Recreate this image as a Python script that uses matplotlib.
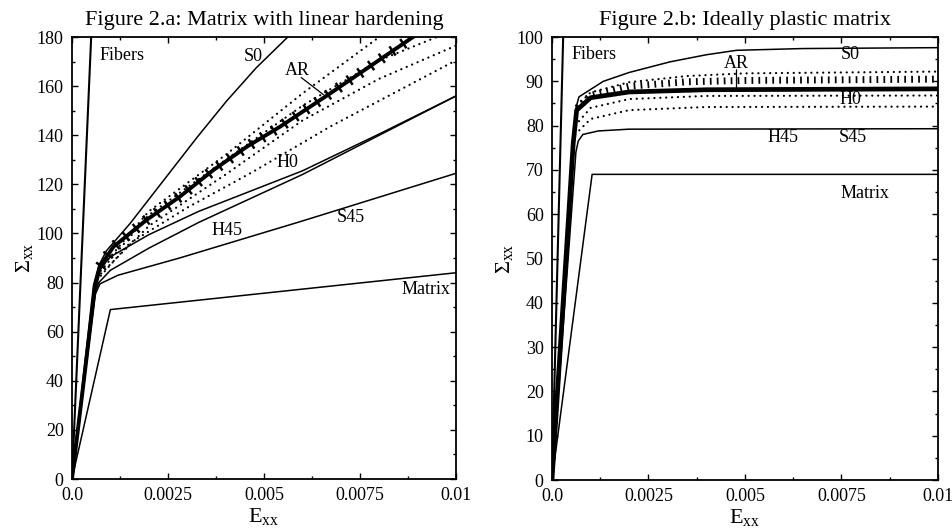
import matplotlib
matplotlib.use("Agg")
import matplotlib.pyplot as plt
from matplotlib.ticker import MultipleLocator, FixedLocator

plt.rcParams['font.family'] = ['Liberation Serif', 'DejaVu Serif']
plt.rcParams['mathtext.fontset'] = 'custom'
plt.rcParams['mathtext.rm'] = 'Liberation Serif'
plt.rcParams['mathtext.it'] = 'Liberation Serif'
plt.rcParams['mathtext.bf'] = 'Liberation Serif'

# ---------------- Figure 2.a : matrix with linear hardening ----------------
a_fib_E = [0.0, 0.0005]
a_fib_S = [0.0, 180.0]
a_mat_E = [0.0, 0.00100, 0.0100]
a_mat_S = [0.0, 69.0, 84.0]
a_s0_E = [0.0, 0.00056, 0.00070, 0.00090, 0.00151, 0.00238, 0.00325, 0.00403, 0.00480, 0.00562]
a_s0_S = [0.0, 79.0, 87.0, 93.0, 104.0, 121.5, 139.0, 154.0, 167.5, 180.0]
a_ar_E = [0.0, 0.00060, 0.00073, 0.00108, 0.00194, 0.00281, 0.00368, 0.00455, 0.00542, 0.00594, 0.00672, 0.00780, 0.00888]
a_ar_S = [0.0, 78.0, 86.5, 94.6, 105.5, 115.0, 125.8, 135.3, 143.5, 148.9, 157.0, 168.5, 180.0]
a_h0_E = [0.0, 0.00062, 0.00070, 0.00100, 0.00200, 0.00330, 0.00600, 0.00800, 0.01000]
a_h0_S = [0.0, 78.0, 85.0, 90.5, 99.5, 109.0, 125.5, 140.5, 156.0]
a_h45_E = [0.0, 0.00060, 0.00070, 0.00100, 0.00200, 0.00330, 0.00600, 0.00800, 0.01000]
a_h45_S = [0.0, 76.0, 80.0, 85.0, 94.0, 104.5, 124.0, 140.0, 156.0]
a_s45_E = [0.0, 0.00060, 0.00073, 0.00120, 0.00200, 0.00280, 0.00594, 0.01000]
a_s45_S = [0.0, 75.0, 79.5, 83.0, 86.5, 90.0, 104.8, 124.5]
# dotted scatter curves around AR
a_d1_E = [0.00065, 0.00200, 0.00400, 0.00600, 0.00800]
a_d1_S = [84.0, 109.0, 132.0, 157.0, 180.0]
a_d2_E = [0.00065, 0.00200, 0.00400, 0.00600, 0.00800, 0.00950]
a_d2_S = [83.0, 107.5, 130.0, 152.0, 170.5, 180.0]
a_d3_E = [0.00065, 0.00200, 0.00400, 0.00600, 0.00800, 0.01000]
a_d3_S = [82.0, 103.0, 124.0, 146.0, 163.0, 176.5]
a_d4_E = [0.00065, 0.00150, 0.00300, 0.00470, 0.00672, 0.01000]
a_d4_S = [81.0, 96.0, 110.5, 125.0, 143.5, 170.5]

# ---------------- Figure 2.b : ideally plastic matrix ----------------
b_fib_E = [0.0, 0.00029]
b_fib_S = [0.0, 100.0]
b_mat_E = [0.0, 0.00104, 0.0100]
b_mat_S = [0.0, 69.0, 69.0]
b_s0_E = [0.0, 0.00062, 0.00070, 0.00133, 0.00200, 0.00306, 0.00400, 0.00478, 0.00650, 0.01000]
b_s0_S = [0.0, 84.0, 86.5, 90.0, 92.0, 94.4, 96.0, 97.0, 97.4, 97.6]
b_ar_E = [0.0, 0.00055, 0.00064, 0.00100, 0.00200, 0.00400, 0.01000]
b_ar_S = [0.0, 76.0, 83.5, 86.3, 87.6, 88.1, 88.3]
b_h45_E = [0.0, 0.00062, 0.00068, 0.00080, 0.00120, 0.00200, 0.01000]
b_h45_S = [0.0, 74.0, 76.5, 78.0, 78.8, 79.2, 79.3]
b_d1_E = [0.00065, 0.00100, 0.00200, 0.00350, 0.00500, 0.01000]
b_d1_S = [84.5, 87.5, 89.8, 91.2, 91.8, 92.2]
b_d2_E = [0.00065, 0.00100, 0.00200, 0.00350, 0.00500, 0.01000]
b_d2_S = [84.0, 86.8, 88.9, 89.9, 90.2, 90.5]
b_d3_E = [0.00060, 0.00100, 0.00200, 0.00400, 0.01000]
b_d3_S = [80.0, 84.0, 86.0, 86.7, 86.8]
b_d4_E = [0.00060, 0.00100, 0.00200, 0.00400, 0.01000]
b_d4_S = [78.0, 81.5, 83.5, 84.2, 84.3]

x_ticks = [0.0, 0.0025, 0.005, 0.0075, 0.01]
x_ticklabels = ['0.0', '0.0025', '0.005', '0.0075', '0.01']

fig = plt.figure(figsize=(9.52, 5.32), dpi=100)
axA = fig.add_axes([0.0756, 0.0996, 0.4034, 0.8308])
axB = fig.add_axes([0.5798, 0.0977, 0.4055, 0.8327])

thin = dict(color='black', lw=1.1, solid_joinstyle='round')
dot = dict(color='black', lw=1.6, linestyle=(0, (0.05, 2.6)), dash_capstyle='round')
hatch = dict(color='black', lw=8.0, linestyle=(0, (0.22, 0.95)), dash_capstyle='butt')

# panel a
axA.plot(a_fib_E, a_fib_S, color='black', lw=1.5)
axA.plot(a_mat_E, a_mat_S, **thin)
axA.plot(a_s0_E, a_s0_S, **thin)
axA.plot(a_h0_E, a_h0_S, **thin)
axA.plot(a_h45_E, a_h45_S, **thin)
axA.plot(a_s45_E, a_s45_S, **thin)
for e, s in [(a_d1_E, a_d1_S), (a_d2_E, a_d2_S), (a_d3_E, a_d3_S), (a_d4_E, a_d4_S)]:
    axA.plot(e, s, **dot)
axA.plot(a_ar_E[2:], a_ar_S[2:], **hatch)
axA.plot(a_ar_E, a_ar_S, color='black', lw=2.8, solid_joinstyle='round')

# panel b
axB.plot(b_fib_E, b_fib_S, color='black', lw=1.5)
axB.plot(b_mat_E, b_mat_S, **thin)
axB.plot(b_s0_E, b_s0_S, **thin)
axB.plot(b_h45_E, b_h45_S, **thin)
for e, s in [(b_d1_E, b_d1_S), (b_d3_E, b_d3_S), (b_d4_E, b_d4_S)]:
    axB.plot(e, s, **dot)
axB.plot(b_d2_E, b_d2_S, color='black', lw=5.0, linestyle=(0, (0.25, 0.75)), dash_capstyle='butt')
axB.plot(b_ar_E, b_ar_S, color='black', lw=3.4, solid_joinstyle='round')

fs_lab = 13
# labels panel a
axA.text(0.00073, 172.5, 'Fibers', fontsize=fs_lab, ha='left', va='center')
axA.text(0.00471, 172.0, 'S0', fontsize=fs_lab, ha='center', va='center')
axA.text(0.00588, 166.5, 'AR', fontsize=fs_lab, ha='center', va='center')
axA.annotate('', xy=(0.00655, 156.5), xytext=(0.00597, 163.5),
             arrowprops=dict(arrowstyle='-', color='black', lw=0.9, shrinkA=0, shrinkB=0))
axA.text(0.00562, 128.7, 'H0', fontsize=fs_lab, ha='center', va='center')
axA.text(0.00403, 101.4, 'H45', fontsize=fs_lab, ha='center', va='center')
axA.text(0.00726, 106.5, 'S45', fontsize=fs_lab, ha='center', va='center')
axA.text(0.00985, 77.0, 'Matrix', fontsize=fs_lab, ha='right', va='center')

# labels panel b
axB.text(0.00051, 96.0, 'Fibers', fontsize=fs_lab, ha='left', va='center')
axB.text(0.00772, 96.0, 'S0', fontsize=fs_lab, ha='center', va='center')
axB.text(0.00478, 94.0, 'AR', fontsize=fs_lab, ha='center', va='center')
axB.annotate('', xy=(0.00478, 88.5), xytext=(0.00478, 92.6),
             arrowprops=dict(arrowstyle='-', color='black', lw=0.9, shrinkA=0, shrinkB=0))
axB.text(0.00772, 85.8, 'H0', fontsize=fs_lab, ha='center', va='center')
axB.text(0.00598, 77.4, 'H45', fontsize=fs_lab, ha='center', va='center')
axB.text(0.00780, 77.4, 'S45', fontsize=fs_lab, ha='center', va='center')
axB.text(0.00810, 64.6, 'Matrix', fontsize=fs_lab, ha='center', va='center')

for ax, ymax, ystep, yminor, title in [
        (axA, 180, 20, 10, 'Figure 2.a: Matrix with linear hardening'),
        (axB, 100, 10, 5, 'Figure 2.b: Ideally plastic matrix')]:
    ax.set_xlim(0, 0.01)
    ax.set_ylim(0, ymax)
    ax.xaxis.set_major_locator(FixedLocator(x_ticks))
    ax.set_xticklabels(x_ticklabels)
    ax.xaxis.set_minor_locator(MultipleLocator(0.00125))
    ax.yaxis.set_major_locator(MultipleLocator(ystep))
    ax.yaxis.set_minor_locator(MultipleLocator(yminor))
    ax.tick_params(which='both', direction='in', top=True, right=True, labelsize=13,
                   width=1.0, colors='black')
    ax.tick_params(which='major', length=4)
    ax.tick_params(axis='x', which='major', pad=6)
    ax.tick_params(axis='y', which='major', pad=6)
    ax.tick_params(which='minor', length=2)
    for sp in ax.spines.values():
        sp.set_linewidth(1.3)
    ax.set_title(title, fontsize=16, pad=9)
    ax.set_xlabel(r'$\mathrm{E_{xx}}$', fontsize=16, labelpad=1)
    ax.set_ylabel(r'$\mathrm{\Sigma_{xx}}$', fontsize=16, labelpad=1)

fig.savefig('out.png', dpi=100)
